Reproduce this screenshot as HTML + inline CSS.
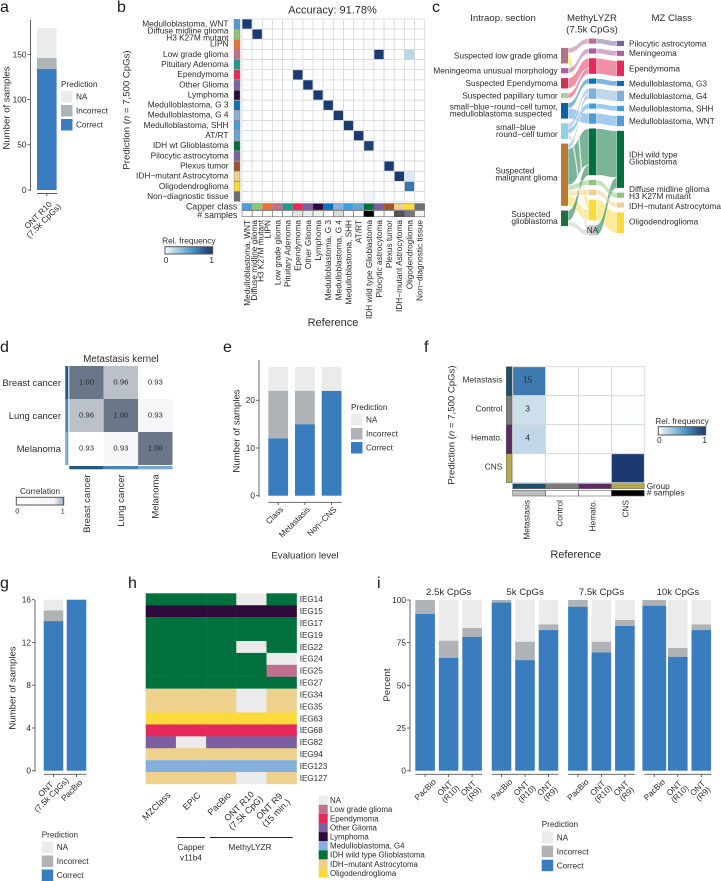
<!DOCTYPE html>
<html lang="en">
<head>
<meta charset="utf-8">
<title>Multi-panel methylation classifier figure</title>
<style>
html,body{margin:0;padding:0;background:#fff;width:721px;height:881px;overflow:hidden}
svg{display:block}
text{font-family:"Liberation Sans",Arial,sans-serif;fill:#2b2b2b}
.letter{font-size:16px;fill:#1a1a1a}
.title{font-size:9.6px}
.big{font-size:11px}
</style>
</head>
<body>
<svg id="fig" xmlns="http://www.w3.org/2000/svg" width="721" height="881" viewBox="0 0 721 881">
  <defs id="defs"></defs>
  <rect width="721" height="881" fill="#ffffff"/>

  <g id="pa">
    <text class="letter" x="0" y="12">a</text>
    <text class="title" x="9.5" y="108" text-anchor="middle" transform="rotate(-90 9.5 108)">Number of samples</text>
  </g>

  <g id="pb">
    <text class="letter" x="117" y="12">b</text>
    <text x="332.5" y="13.5" font-size="11" text-anchor="middle">Accuracy: 91.78%</text>
    <text class="title" x="129.5" y="110" text-anchor="middle" transform="rotate(-90 129.5 110)">Prediction (<tspan font-style="italic">n</tspan> = 7,500 CpGs)</text>
    <text class="big" x="333" y="326" text-anchor="middle">Reference</text>
    <text x="237.3" y="209.5" font-size="8.8" text-anchor="end">Capper class</text>
    <text x="237.3" y="217.8" font-size="8.8" text-anchor="end"># samples</text>
  </g>

  <g id="pc">
    <text class="letter" x="432" y="12">c</text>
    <text class="title" x="503" y="21" text-anchor="middle">Intraop. section</text>
    <text class="title" x="592" y="21" text-anchor="middle">MethyLYZR</text>
    <text class="title" x="592" y="32.5" text-anchor="middle">(7.5k CpGs)</text>
    <text class="title" x="671.7" y="21" text-anchor="middle">MZ Class</text>
  </g>

  <g id="pd">
    <text class="letter" x="0" y="352">d</text>
    <text x="121" y="362" font-size="9.7" text-anchor="middle">Metastasis kernel</text>
  </g>

  <g id="pe">
    <text class="letter" x="223" y="352">e</text>
    <text class="title" x="239.5" y="431" text-anchor="middle" transform="rotate(-90 239.5 431)">Number of samples</text>
    <text x="305" y="558.3" font-size="9.6" text-anchor="middle">Evaluation level</text>
  </g>

  <g id="pf">
    <text class="letter" x="424" y="352">f</text>
    <text class="title" x="454.5" y="425" text-anchor="middle" transform="rotate(-90 454.5 425)">Prediction (<tspan font-style="italic">n</tspan> = 7,500 CpGs)</text>
    <text class="big" x="575.7" y="558" text-anchor="middle">Reference</text>
    <text x="646.7" y="489" font-size="8.3">Group</text>
    <text x="646.7" y="495.7" font-size="8.3"># samples</text>
  </g>

  <g id="pg">
    <text class="letter" x="0" y="588">g</text>
    <text class="title" x="15.5" y="688" text-anchor="middle" transform="rotate(-90 15.5 688)">Number of samples</text>
  </g>

  <g id="ph">
    <text class="letter" x="128" y="588">h</text>
    <line x1="176.7" x2="205" y1="837.5" y2="837.5" stroke="#222" stroke-width="0.9"/>
    <line x1="210" x2="292.7" y1="837.5" y2="837.5" stroke="#222" stroke-width="0.9"/>
    <text x="191" y="850" font-size="8.3" text-anchor="middle">Capper</text>
    <text x="191" y="860.3" font-size="8.3" text-anchor="middle">v11b4</text>
    <text x="250" y="850" font-size="8.3" text-anchor="middle">MethyLYZR</text>
  </g>

  <g id="pi">
    <text class="letter" x="377" y="588">i</text>
    <text class="title" x="390" y="685" text-anchor="middle" transform="rotate(-90 390 685)">Percent</text>
  </g>
</svg>

<script>
/* ---------- chart values ---------- */
const predictionLabels = ['NA', 'Incorrect', 'Correct'];

const aCategories = ['ONT R10\n(7.5k CpGs)'];
const aCorrect = [134];
const aIncorrect = [12];
const aMissing = [33];
const aTicks = [0, 50, 100, 150];

const bRowLabels = ['Medulloblastoma, WNT', 'Diffuse midline glioma\nH3 K27M mutant', 'LIPN', 'Low grade glioma', 'Pituitary Adenoma', 'Ependymoma', 'Other Glioma', 'Lymphoma', 'Medulloblastoma, G 3', 'Medulloblastoma, G 4', 'Medulloblastoma, SHH', 'AT/RT', 'IDH wt Glioblastoma', 'Pilocytic astrocytoma', 'Plexus tumor', 'IDH\u2212mutant Astrocytoma', 'Oligodendroglioma', 'Non\u2212diagnostic tissue'];
const bColLabels = ['Medulloblastoma, WNT', 'Diffuse midline glioma\nH3 K27M mutant', 'LIPN', 'Low grade glioma', 'Pituitary Adenoma', 'Ependymoma', 'Other Glioma', 'Lymphoma', 'Medulloblastoma, G 3', 'Medulloblastoma, G 4', 'Medulloblastoma, SHH', 'AT/RT', 'IDH wild type Glioblastoma', 'Pilocytic astrocytoma', 'Plexus tumor', 'IDH\u2212mutant Astrocytoma', 'Oligodendroglioma', 'Non\u2212diagnostic tissue'];
const bMatrix = [
  [1,0,0,0,0,0,0,0,0,0,0,0,0,0,0,0,0,0],
  [0,1,0,0,0,0,0,0,0,0,0,0,0,0,0,0,0,0],
  [0,0,0,0,0,0,0,0,0,0,0,0,0.02,0,0,0,0,0],
  [0,0,0,0,0,0,0,0,0,0,0,0,0,1,0,0,0.2,0],
  [0,0,0,0,0,0,0,0,0,0,0,0,0.02,0,0,0,0,0],
  [0,0,0,0,0,1,0,0,0,0,0,0,0,0,0,0,0,0],
  [0,0,0,0,0,0,1,0,0,0,0,0,0,0,0,0,0,0],
  [0,0,0,0,0,0,0,1,0,0,0,0,0,0,0,0,0,0],
  [0,0,0,0,0,0,0,0,1,0,0,0,0,0,0,0,0,0],
  [0,0,0,0,0,0,0,0,0,1,0,0,0,0,0,0,0,0],
  [0,0,0,0,0,0,0,0,0,0,1,0,0,0,0,0,0,0],
  [0,0,0,0,0,0,0,0,0,0,0,1,0,0,0,0,0,0],
  [0,0,0,0,0,0,0,0,0,0,0,0,0.97,0,0,0,0,0],
  [0,0,0,0,0,0,0,0,0,0,0,0,0,0,0,0,0,0],
  [0,0,0,0,0,0,0,0,0,0,0,0,0,0,1,0,0,0],
  [0,0,0,0,0,0,0,0,0,0,0,0,0,0,0,1,0.1,0],
  [0,0,0,0,0,0,0,0,0,0,0,0,0,0,0,0,0.7,0],
  [0,0,0,0,0,0,0,0,0,0,0,0,0.04,0,0,0,0,0]
];
const bSamples = [1, 1, 1, 1, 1, 8, 5, 4, 1, 10, 2, 1, 70, 1, 1, 47, 37, 3];

const cLeftStage = ['Suspected low grade glioma', 'Meningeoma unusual morphology', 'Suspected Ependymoma', 'Suspected papillary tumor', 'small\u2212blue\u2212round\u2212cell tumor,\nmedulloblastoma suspected', 'small\u2212blue\nround\u2212cell tumor', 'Suspected\nmalignant glioma', 'Suspected\nglioblastoma'];
const cMiddleStage = ['Low grade', 'Meningeoma', 'Ependymoma', 'G3', 'G4', 'SHH', 'WNT', 'IDH wt', 'Diffuse', 'IDH mutant', 'Oligo', 'NA'];
const cRightStage = ['Pilocytic astrocytoma', 'Meningeoma', 'Ependymoma', 'Medulloblastoma, G3', 'Medulloblastoma, G4', 'Medulloblastoma, SHH', 'Medulloblastoma, WNT', 'IDH wild type\nGlioblastoma', 'Diffuse midline glioma\nH3 K27M mutant', 'IDH\u2212mutant Astrocytoma', 'Oligodendroglioma'];
const cEntrySource = [0, 0, 1, 2, 3, 4, 4, 5, 5, 5, 6, 6, 6, 6, 6, 7, 7];
const cEntryTarget = [0, 10, 1, 2, 2, 3, 6, 4, 5, 11, 4, 7, 8, 9, 10, 7, 11];
const cEntryCount = [1, 2, 1, 2, 1, 1, 2, 1, 1, 1, 1, 7, 1, 1, 2, 2, 1];
const cExitSource = [0, 1, 2, 3, 4, 5, 6, 7, 8, 9, 10, 11];
const cExitTarget = [0, 1, 2, 3, 4, 5, 6, 7, 8, 9, 10, 7];
const cExitCount = [1, 1, 3, 1, 2, 1, 2, 9, 1, 1, 4, 2];

const dCategories = ['Breast cancer', 'Lung cancer', 'Melanoma'];
const dMatrix = [
  [1.00, 0.96, 0.926],
  [0.96, 1.00, 0.931],
  [0.926, 0.931, 1.00]
];

const eCategories = ['Class', 'Metastasis', 'Non\u2212CNS'];
const eCorrect = [12, 15, 22];
const eIncorrect = [10, 7, 0];
const eMissing = [5, 5, 5];
const eTicks = [0, 10, 20];

const fCategories = ['Metastasis', 'Control', 'Hemato.', 'CNS'];
const fMatrix = [
  [0.68, 0, 0, 0],
  [0.14, 0, 0, 0.01],
  [0.18, 0, 0, 0],
  [0, 0, 0, 1]
];
const fCounts = [
  ['15', '', '', ''],
  ['3', '', '', ''],
  ['4', '', '', ''],
  ['', '', '', '']
];
const fSamples = [22, 0, 0, 88];

const gCategories = ['ONT\n(7.5k CpGs)', 'PacBio'];
const gCorrect = [14, 16];
const gIncorrect = [1, 0];
const gMissing = [1, 0];
const gTicks = [0, 4, 8, 12, 16];

const hSamples = ['IEG14', 'IEG15', 'IEG17', 'IEG19', 'IEG22', 'IEG24', 'IEG25', 'IEG27', 'IEG34', 'IEG35', 'IEG63', 'IEG68', 'IEG82', 'IEG94', 'IEG123', 'IEG127'];
const hMethods = ['MZClass', 'EPIC', 'PacBio', 'ONT R10\n(7.5k CpG)', 'ONT R9\n(15 min.)'];
const hClasses = ['NA', 'Low grade glioma', 'Ependymoma', 'Other Glioma', 'Lymphoma', 'Medulloblastoma, G4', 'IDH wild type Glioblastoma', 'IDH\u2212mutant Astrocytoma', 'Oligodendroglioma'];
const hCalls = [
  [6, 6, 6, 0, 6],
  [4, 4, 4, 4, 4],
  [6, 6, 6, 6, 6],
  [6, 6, 6, 6, 6],
  [6, 6, 6, 0, 6],
  [6, 6, 6, 6, 0],
  [6, 6, 6, 6, 1],
  [6, 6, 6, 6, 6],
  [7, 7, 7, 0, 7],
  [7, 7, 7, 0, 7],
  [8, 8, 8, 8, 8],
  [2, 2, 2, 2, 2],
  [3, 0, 3, 3, 3],
  [7, 7, 7, 7, 7],
  [5, 5, 5, 5, 5],
  [7, 7, 7, 0, 7]
];

const iFacets = ['2.5k CpGs', '5k CpGs', '7.5k CpGs', '10k CpGs'];
const iCategories = ['PacBio', 'ONT\n(R10)', 'ONT\n(R9)'];
const iCorrect = [[91.8, 66.2, 78.5], [98.6, 64.8, 82.4], [96.1, 69.4, 84.8], [96.7, 66.8, 82.4]];
const iIncorrect = [[8.2, 10.0, 5.1], [1.4, 10.8, 3.4], [3.9, 6.2, 3.5], [3.3, 5.1, 3.4]];
const iMissing = [[0, 23.8, 16.4], [0, 24.4, 14.2], [0, 24.4, 11.7], [0, 28.1, 14.2]];
const iTicks = [0, 25, 50, 75, 100];

/* ---------- styles (not data) ---------- */
const predictionColors = { NA: '#ebebeb', Incorrect: '#b0b3b5', Correct: '#3a7dbf' };
const relRampStops = [[0, '#ffffff'], [0.15, '#c9dde9'], [0.3, '#9cc5e0'], [0.55, '#4a9ccf'], [0.68, '#3f7ab0'], [0.85, '#2a5288'], [1, '#1c3a70']];
const bClassColors = ['#4f9cd8', '#8cc67c', '#e8742f', '#c0708e', '#1f9a8a', '#e6285a', '#7b5fa0', '#2e0a3c', '#0772b8', '#85b0dc', '#3f9fdc', '#66a5d0', '#00703c', '#7b5fa0', '#a0522d', '#efd18e', '#fadb3a', '#6e6e75'];
const cLeftColors = ['#b5708a', '#a8609f', '#cc3355', '#a8d08d', '#0a60aa', '#92cfe5', '#c07a30', '#20703f'];
const cMiddleColors = ['#b8708f', '#a8609f', '#e6285a', '#0772b8', '#7fb0dc', '#40a0dc', '#4f9cd8', '#00703c', '#8cc67c', '#efd18e', '#fadb3a', '#c9c9c9'];
const cRightColors = ['#7b5fa0', '#a8609f', '#e6285a', '#0772b8', '#7fb0dc', '#40a0dc', '#4f9cd8', '#00703c', '#8cc67c', '#efd18e', '#fadb3a'];
const dStripeColors = ['#24587f', '#4b82b8', '#7aa5cf'];
const fGroupColors = ['#1d4e6e', '#7b7b7b', '#5e2a63', '#b3a84a'];
const hClassColors = ['#ebebeb', '#c0708e', '#e6285a', '#7b5fa0', '#2e0a3c', '#85b0dc', '#00703c', '#efd18e', '#fadb3a'];

/* ---------- helpers ---------- */
const NS = 'http://www.w3.org/2000/svg';
const panel = id => document.getElementById(id);
const slug = s => String(s).toLowerCase().replace(/[^a-z0-9]+/g, '-').replace(/^-|-$/g, '');
const linear = (d0, d1, r0, r1) => v => r0 + (v - d0) / (d1 - d0) * (r1 - r0);
const band = (start, bandWidth, step) => i => start + i * step + bandWidth / 2;

function drawRect(parent, name, x, y, w, h, fill, stroke, sw) {
  const el = document.createElementNS(NS, 'rect');
  
  
  el.setAttribute('x', x);
  el.setAttribute('y', y);
  el.setAttribute('width', Math.max(0, w));
  el.setAttribute('height', Math.max(0, h));
  el.setAttribute('fill', fill);
  if (stroke) {
    el.setAttribute('stroke', stroke);
    el.setAttribute('stroke-width', sw || 0.8);
  }
  parent.appendChild(el);
  return el;
}
function drawLine(parent, name, x1, y1, x2, y2, stroke, sw) {
  const el = document.createElementNS(NS, 'line');
  
  
  el.setAttribute('x1', x1);
  el.setAttribute('y1', y1);
  el.setAttribute('x2', x2);
  el.setAttribute('y2', y2);
  el.setAttribute('stroke', stroke || '#555');
  el.setAttribute('stroke-width', sw || 0.9);
  parent.appendChild(el);
  return el;
}
function drawText(parent, name, str, x, y, fs, anchor, rot) {
  const el = document.createElementNS(NS, 'text');
  
  
  el.setAttribute('x', x);
  el.setAttribute('y', y);
  el.setAttribute('dy', '.35em');
  el.setAttribute('font-size', fs || 8.3);
  el.setAttribute('text-anchor', anchor || 'start');
  if (rot) el.setAttribute('transform', 'rotate(' + rot + ' ' + x + ' ' + y + ')');
  el.textContent = str;
  parent.appendChild(el);
  return el;
}
function drawYAxis(parent, name, scale, ticks, x, top, bottom) {
  drawLine(parent, name + '-line', x, top, x, bottom);
  ticks.forEach(t => {
    drawLine(parent, name + '-tick-' + t, x - 3, scale(t), x, scale(t));
    drawText(parent, name + '-tick-label-' + t, t, x - 4, scale(t), 8.3, 'end');
  });
}
/* label placed by the end of a single rotated line */
function endLabel(parent, name, str, ex, ey, fs) {
  return drawText(parent, name, str, ex, ey, fs || 8.3, 'end', -45);
}
/* multi-line rotated label placed by its block centre */
function blockLabel(parent, name, str, cx, cy, lh, fs) {
  const lines = str.split('\n');
  const g = document.createElementNS(NS, 'g');
  
  
  g.setAttribute('transform', 'translate(' + cx + ' ' + cy + ') rotate(-45)');
  parent.appendChild(g);
  lines.forEach((line, i) => {
    drawText(g, name + '-line-' + (i + 1), line, 0, (i - (lines.length - 1) / 2) * (lh || 8), fs || 8.3, 'middle');
  });
}
function stackedBar(parent, name, cx, width, scale, correct, incorrect, missing) {
  const values = [correct, incorrect, missing];
  const keys = ['Correct', 'Incorrect', 'NA'];
  let acc = 0;
  keys.forEach((k, i) => {
    const v = values[i];
    if (v > 0) {
      drawRect(parent, name + '-' + slug(k), cx - width / 2, scale(acc + v), width, scale(acc) - scale(acc + v), predictionColors[k]);
    }
    acc += v;
  });
}
function predictionLegend(parent, name, x, titleY, swatchY) {
  drawText(parent, name + '-title', 'Prediction', x, titleY, 8.2);
  predictionLabels.forEach((k, i) => {
    drawRect(parent, name + '-swatch-' + slug(k), x, swatchY + i * 14, 11.5, 11.5, predictionColors[k]);
    drawText(parent, name + '-label-' + slug(k), k, x + 15, swatchY + i * 14 + 5.7, 8.2);
  });
}
function hexToRgb(h) {
  return [parseInt(h.slice(1, 3), 16), parseInt(h.slice(3, 5), 16), parseInt(h.slice(5, 7), 16)];
}
function mix(a, b, t) {
  const ca = hexToRgb(a);
  const cb = hexToRgb(b);
  return 'rgb(' + ca.map((c, i) => Math.round(c + (cb[i] - c) * t)).join(',') + ')';
}
function relColor(v) {
  for (let i = 1; i < relRampStops.length; i++) {
    if (v <= relRampStops[i][0]) {
      const a = relRampStops[i - 1];
      const b = relRampStops[i];
      return mix(a[1], b[1], (v - a[0]) / (b[0] - a[0]));
    }
  }
  return relRampStops[relRampStops.length - 1][1];
}
const grayFor = (v, max) => mix('#ffffff', '#000000', v / max);
function addGradient(id, stops) {
  const g = document.createElementNS(NS, 'linearGradient');
  g.setAttribute('id', id);
  stops.forEach(s => {
    const st = document.createElementNS(NS, 'stop');
    st.setAttribute('offset', s[0]);
    st.setAttribute('stop-color', s[1]);
    g.appendChild(st);
  });
  document.getElementById('defs').appendChild(g);
}
function colorbar(parent, name, title, gradientId, x, y, w, h, titleY, labelY, fs, labelFs) {
  drawText(parent, name + '-title', title, x + w / 2, titleY, fs, 'middle');
  drawRect(parent, name + '-bar', x, y, w, h, 'url(#' + gradientId + ')', '#555', 1);
  drawText(parent, name + '-min', '0', x + 1, labelY, labelFs || fs, 'middle');
  drawText(parent, name + '-max', '1', x + w - 1, labelY, labelFs || fs, 'middle');
}
addGradient('relRamp', relRampStops);
addGradient('corRamp', [[0, '#ffffff'], [0.8, '#f4f4f6'], [0.9, '#c8ccd2'], [0.97, '#a8bcd4'], [1, '#4f7fb0']]);

/* ---------- panel a ---------- */
(function () {
  const p = panel('pa');
  const y = linear(0, 150, 190, 54.4);
  const x = band(37, 19.6, 22);
  drawYAxis(p, 'y-axis-a', y, aTicks, 30.5, 20, 191);
  aCategories.forEach((c, i) => {
    stackedBar(p, 'bar-a-' + slug(c), x(i), 19.6, y, aCorrect[i], aIncorrect[i], aMissing[i]);
    drawLine(p, 'x-axis-tick-a', x(i), 193.5, x(i), 196);
    blockLabel(p, 'x-tick-label-a', c, x(i) - 6, 218, 8);
  });
  drawLine(p, 'x-axis-line-a', 37, 193.5, 57, 193.5);
  predictionLegend(p, 'legend-a', 61, 84, 91);
})();

/* ---------- panel b ---------- */
(function () {
  const p = panel('pb');
  const cell = 10.15;
  const x0 = 242;
  const y0 = 19;
  const n = bColLabels.length;
  const sx = i => x0 + i * cell;
  const sy = i => y0 + i * cell;
  bMatrix.forEach((row, r) => row.forEach((v, c) => {
    drawRect(p, 'cell-b-' + r + '-' + c, sx(c), sy(r), cell, cell, relColor(v), '#d6d9dc', 0.8);
  }));
  bRowLabels.forEach((label, r) => {
    const cy = sy(r) + cell / 2;
    const lines = label.split('\n');
    lines.forEach((l, i) => {
      const off = lines.length > 1 ? (i === 0 ? -3.5 : 3.5) : -0.6;
      drawText(p, 'row-label-' + slug(l), l, 228.5, cy + off, 8.3, 'end');
    });
    drawRect(p, 'row-class-' + r, 234, sy(r) + 0.3, 6, cell - 0.6, bClassColors[r], '#777', 0.4);
  });
  bColLabels.forEach((label, c) => {
    const cx = sx(c) + cell / 2;
    const lines = label.split('\n');
    lines.forEach((l, i) => {
      const off = lines.length > 1 ? (i === 0 ? -3.2 : 3.2) : 0;
      drawText(p, 'col-label-' + slug(l), l, cx + off, 220, 8.25, 'end', -90);
    });
    drawRect(p, 'capper-class-' + c, sx(c), 203.5, cell, 6.5, bClassColors[c]);
    drawRect(p, 'samples-b-' + c, sx(c), 210.7, cell, 6, grayFor(bSamples[c], 70), '#555', 0.5);
  });
  drawRect(p, 'capper-class-outline', x0, 203.5, n * cell, 6.5, 'none', '#777', 0.5);
  colorbar(p, 'legend-rel-frequency-b', 'Rel. frequency', 'relRamp', 165, 246.7, 47.7, 7.3, 240.7, 260, 8.3);
})();

/* ---------- panel c ---------- */
(function () {
  const p = panel('pc');
  const unit = 5.19;
  const gap = 4.7;
  const centre = 137;
  const nodeW = 7;
  const colX = [561, 589, 617];
  function layout(names, idxs, counts) {
    const totals = names.map((_, i) => idxs.reduce((s, v, k) => s + (v === i ? counts[k] : 0), 0));
    const sum = totals.reduce((a, b) => a + b, 0);
    let y = centre - (sum * unit + (names.length - 1) * gap) / 2;
    return totals.map(t => {
      const node = { y: y, h: t * unit };
      y += t * unit + gap;
      return node;
    });
  }
  const left = layout(cLeftStage, cEntrySource, cEntryCount);
  const mid = layout(cMiddleStage, cEntryTarget, cEntryCount);
  const right = layout(cRightStage, cExitTarget, cExitCount);

  function flows(sources, targets, counts, from, to, xA, xB, colors, colorByTarget, label) {
    const order = counts.map((_, i) => i);
    const outPos = from.map(n => n.y);
    const inPos = to.map(n => n.y);
    const rows = [];
    order.slice().sort((a, b) => sources[a] - sources[b] || targets[a] - targets[b]).forEach(i => {
      rows[i] = { y0: outPos[sources[i]] };
      outPos[sources[i]] += counts[i] * unit;
    });
    order.slice().sort((a, b) => targets[a] - targets[b] || sources[a] - sources[b]).forEach(i => {
      rows[i].y1 = inPos[targets[i]];
      inPos[targets[i]] += counts[i] * unit;
    });
    order.slice().sort((a, b) => counts[b] - counts[a]).forEach(i => {
      const h = counts[i] * unit;
      const xm = (xA + xB) / 2;
      const r = rows[i];
      const el = document.createElementNS(NS, 'path');
      
      
      el.setAttribute('d', 'M' + xA + ' ' + r.y0 + ' C' + xm + ' ' + r.y0 + ' ' + xm + ' ' + r.y1 + ' ' + xB + ' ' + r.y1 + ' L' + xB + ' ' + (r.y1 + h) + ' C' + xm + ' ' + (r.y1 + h) + ' ' + xm + ' ' + (r.y0 + h) + ' ' + xA + ' ' + (r.y0 + h) + ' Z');
      el.setAttribute('fill', colors[colorByTarget ? targets[i] : sources[i]]);
      el.setAttribute('fill-opacity', '0.52');
      el.setAttribute('stroke', '#ffffff');
      el.setAttribute('stroke-width', '0.5');
      p.appendChild(el);
    });
  }
  flows(cEntrySource, cEntryTarget, cEntryCount, left, mid, colX[0] + nodeW, colX[1], cMiddleColors, true, 'entry');
  flows(cExitSource, cExitTarget, cExitCount, mid, right, colX[1] + nodeW, colX[2], cRightColors, true, 'exit');

  left.forEach((n, i) => drawRect(p, 'node-left-' + slug(cLeftStage[i]), colX[0], n.y, nodeW, n.h, cLeftColors[i]));
  mid.forEach((n, i) => drawRect(p, 'node-middle-' + slug(cMiddleStage[i]), colX[1], n.y, nodeW, n.h, cMiddleColors[i]));
  right.forEach((n, i) => drawRect(p, 'node-right-' + slug(cRightStage[i]), colX[2], n.y, nodeW, n.h, cRightColors[i]));

  left.forEach((n, i) => {
    const lines = cLeftStage[i].split('\n');
    const cy = n.y + n.h / 2;
    if (lines.length === 1) {
      drawText(p, 'left-label-' + slug(lines[0]), lines[0], 557.7, cy, 8.25, 'end');
    } else {
      const a = drawText(p, 'left-label-' + slug(lines[0]), lines[0], 0, cy - 4, 8.25);
      const b = drawText(p, 'left-label-' + slug(lines[1]), lines[1], 0, cy + 3, 8.25);
      const w = Math.max(a.getComputedTextLength(), b.getComputedTextLength());
      a.setAttribute('x', 557.7 - w);
      b.setAttribute('x', 557.7 - w);
    }
  });
  right.forEach((n, i) => {
    const lines = cRightStage[i].split('\n');
    const nudge = i === 8 ? -2.7 : i === 7 ? -1.2 : i === 10 ? -1.4 : i === 9 ? 1.2 : 0;
    const cy = n.y + n.h / 2 + nudge;
    lines.forEach((l, k) => {
      const off = lines.length > 1 ? (k === 0 ? -3.4 : 3.4) : 0;
      drawText(p, 'right-label-' + slug(l), l, 629, cy + off, 8.25);
    });
  });
  const naNode = mid[cMiddleStage.indexOf('NA')];
  drawText(p, 'na-label', 'NA', colX[1] + nodeW / 2, naNode.y + naNode.h / 2, 8.25, 'middle');
})();

/* ---------- panel d ---------- */
(function () {
  const p = panel('pd');
  const x0 = 69.3;
  const y0 = 366;
  const cw = 34.4;
  const ch = 33;
  const t = linear(0.926, 1, 0, 1);
  dMatrix.forEach((row, r) => row.forEach((v, c) => {
    drawRect(p, 'cell-d-' + r + '-' + c, x0 + c * cw, y0 + r * ch, cw, ch, mix('#ffffff', '#6b7789', t(v)));
    drawText(p, 'cell-value-d-' + r + '-' + c, v.toFixed(2), x0 + (c + 0.5) * cw, y0 + (r + 0.5) * ch - 0.5, 7.7, 'middle');
  }));
  dCategories.forEach((label, i) => {
    drawRect(p, 'stripe-left-d-' + i, 65.3, y0 + i * ch, 3, ch, dStripeColors[i]);
    drawRect(p, 'stripe-bottom-d-' + i, x0 + i * cw, 466, cw, 3.3, dStripeColors[i]);
    drawText(p, 'row-label-d-' + slug(label), label, 61, y0 + (i + 0.5) * ch, 9.5, 'end');
    drawText(p, 'col-label-d-' + slug(label), label, x0 + (i + 0.5) * cw, 474.3, 9.5, 'end', -90);
  });
  colorbar(p, 'legend-correlation', 'Correlation', 'corRamp', 16.3, 497.3, 47.4, 7.7, 491, 511, 8.2, 7.5);
})();

/* ---------- panel e ---------- */
(function () {
  const p = panel('pe');
  const y = linear(0, 20, 495.7, 400.3);
  const x = band(268.3, 19.8, 26.7);
  drawYAxis(p, 'y-axis-e', y, eTicks, 259, 360, 497.3);
  eCategories.forEach((c, i) => {
    stackedBar(p, 'bar-e-' + slug(c), x(i), 19.8, y, eCorrect[i], eIncorrect[i], eMissing[i]);
    drawLine(p, 'x-axis-tick-e-' + slug(c), x(i), 502.3, x(i), 505);
    endLabel(p, 'x-tick-label-e-' + slug(c), c, x(i) + 3.5, 508);
  });
  drawLine(p, 'x-axis-line-e', 268.3, 502.3, 341.7, 502.3);
  predictionLegend(p, 'legend-e', 351, 407, 414);
})();

/* ---------- panel f ---------- */
(function () {
  const p = panel('pf');
  const x0 = 512.7;
  const y0 = 366.7;
  const cw = 32.9;
  const ch = 29;
  fMatrix.forEach((row, r) => row.forEach((v, c) => {
    drawRect(p, 'cell-f-' + r + '-' + c, x0 + c * cw, y0 + r * ch, cw, ch, relColor(v), '#d5d8db', 0.9);
    if (fCounts[r][c]) {
      drawText(p, 'cell-count-f-' + r + '-' + c, fCounts[r][c], x0 + (c + 0.5) * cw - 1.5, y0 + (r + 0.5) * ch - 1.5, 8.3, 'middle');
    }
  }));
  fCategories.forEach((label, i) => {
    drawRect(p, 'row-group-f-' + slug(label), 506.3, y0 + i * ch, 5.7, ch, fGroupColors[i], '#555', 0.4);
    drawRect(p, 'col-group-f-' + slug(label), x0 + i * cw, 483.7, cw, 5, fGroupColors[i], '#666', 0.5);
    drawRect(p, 'samples-f-' + slug(label), x0 + i * cw, 490.3, cw, 5.7, grayFor(fSamples[i], 88), '#666', 0.6);
    drawText(p, 'row-label-f-' + slug(label), label, 502.3, y0 + (i + 0.5) * ch - 1.5, 8.3, 'end');
    drawText(p, 'col-label-f-' + slug(label), label, x0 + (i + 0.5) * cw - 2.4, 500, 8.3, 'end', -90);
  });
  colorbar(p, 'legend-rel-frequency-f', 'Rel. frequency', 'relRamp', 658.3, 426.7, 47.4, 8.3, 421, 440, 8.3);
})();

/* ---------- panel g ---------- */
(function () {
  const p = panel('pg');
  const y = linear(0, 16, 770.7, 599.7);
  const x = band(43.7, 19.6, 23);
  drawYAxis(p, 'y-axis-g', y, gTicks, 35, 600, 771.7);
  gCategories.forEach((c, i) => {
    stackedBar(p, 'bar-g-' + slug(c), x(i), 19.6, y, gCorrect[i], gIncorrect[i], gMissing[i]);
    drawLine(p, 'x-axis-tick-g-' + slug(c), x(i), 774.3, x(i), 777);
    if (c.indexOf('\n') >= 0) {
      blockLabel(p, 'x-tick-label-g-' + slug(c), c, x(i) - 5, 792, 8);
    } else {
      endLabel(p, 'x-tick-label-g-' + slug(c), c, x(i) + 4.5, 781);
    }
  });
  drawLine(p, 'x-axis-line-g', 43.7, 774.3, 86.3, 774.3);
  predictionLegend(p, 'legend-g', 41.7, 834.7, 841.5);
})();

/* ---------- panel h ---------- */
(function () {
  const p = panel('ph');
  const x0 = 145.7;
  const y0 = 593.3;
  const cw = 30.2;
  const ch = 11.92;
  hCalls.forEach((row, r) => {
    row.forEach((v, c) => {
      drawRect(p, 'cell-h-' + hSamples[r].toLowerCase() + '-' + c, x0 + c * cw, y0 + r * ch, cw + 0.15, ch + 0.15, hClassColors[v]);
    });
    drawText(p, 'row-label-h-' + hSamples[r].toLowerCase(), hSamples[r], 299.7, y0 + (r + 0.5) * ch, 8.15);
  });
  hMethods.forEach((m, i) => {
    const cx = x0 + (i + 0.5) * cw;
    if (m.indexOf('\n') >= 0) {
      blockLabel(p, 'col-label-h-' + slug(m), m, cx - 9, 809.5, 9.5, 9);
    } else {
      endLabel(p, 'col-label-h-' + slug(m), m, cx + 8, 793.5, 9);
    }
  });
  hClasses.forEach((k, i) => {
    const sy = 795.7 + i * 9.1;
    drawRect(p, 'legend-h-swatch-' + slug(k), 318.7, sy, 9, 9.1, hClassColors[i]);
    drawText(p, 'legend-h-label-' + slug(k), k, 330, sy + 4.6, 7.9);
  });
})();

/* ---------- panel i ---------- */
(function () {
  const p = panel('pi');
  const y = linear(0, 100, 770.7, 600);
  const barW = 19.6;
  const facetX = linear(0, 1, 415.3, 491.7);
  const x = band(0, barW, 23.5);
  drawYAxis(p, 'y-axis-i', y, iTicks, 410, 600, 771.7);
  iFacets.forEach((f, fi) => {
    const start = facetX(fi);
    drawText(p, 'facet-title-' + slug(f), f, start + 33.4, 591.7, 9.6, 'middle');
    drawLine(p, 'x-axis-line-i-' + slug(f), start, 774.3, start + 66.7, 774.3);
    iCategories.forEach((c, ci) => {
      const cx = start + x(ci);
      const name = 'bar-i-' + slug(f) + '-' + slug(c);
      const widen = fi === iFacets.length - 1 && ci === 0 ? 4.2 : 0;
      stackedBar(p, name, cx, barW + widen, y, iCorrect[fi][ci], iIncorrect[fi][ci], iMissing[fi][ci]);
      drawLine(p, 'x-axis-tick-i-' + slug(f) + '-' + slug(c), cx, 774.3, cx, 777);
      blockLabel(p, 'x-tick-label-i-' + slug(f) + '-' + slug(c), c, cx + (ci === 0 ? 0 : -1), ci === 0 ? 789.7 : 791, 8);
    });
  });
  predictionLegend(p, 'legend-i', 541.7, 824, 831.7);
})();
</script>
</body>
</html>
